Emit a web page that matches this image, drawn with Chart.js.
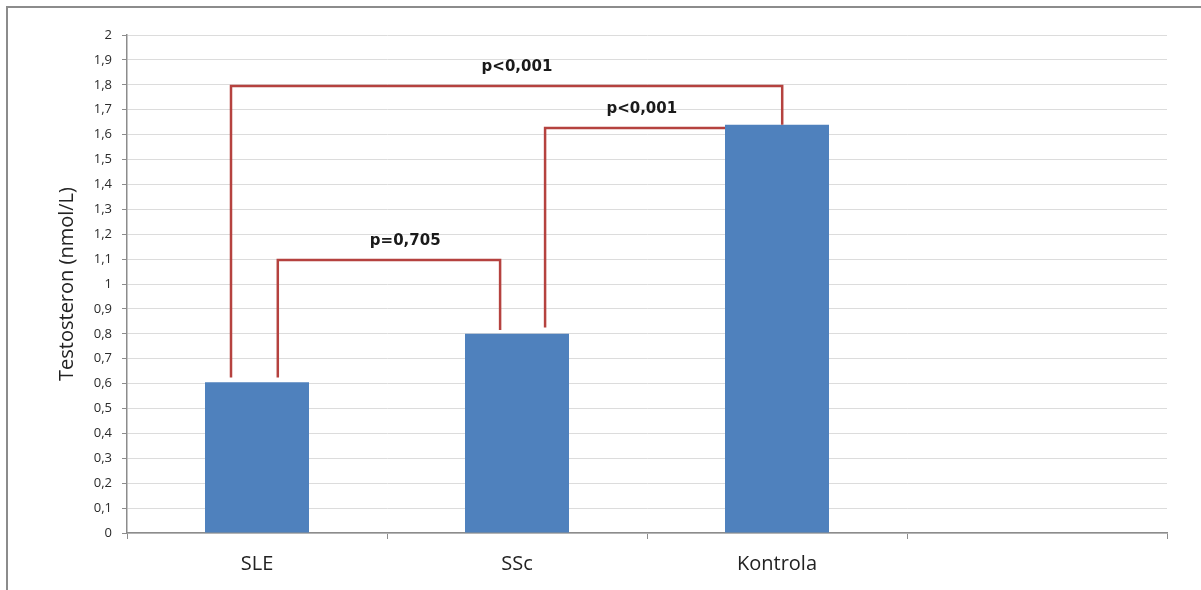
<!DOCTYPE html>
<html>
<head>
<meta charset="utf-8">
<script src="https://cdn.jsdelivr.net/npm/chart.js@4"></script>
<style>
  html, body { margin: 0; padding: 0; background: #fff; overflow: hidden; }
  #wrap { position: relative; width: 1201px; height: 590px; }
  #frame { position: absolute; left: 6px; top: 6px; width: 1400px; height: 800px;
           border-top: 2px solid #8c8c8c; border-left: 2px solid #8c8c8c; pointer-events: none; }
</style>
</head>
<body>
<div id="wrap">
  <canvas id="myBarChart" width="1201" height="590"></canvas>
  <div id="frame"></div>
</div>
<script>
// data
const categories = ['SLE', 'SSc', 'Kontrola', ''];
const testosteron = [0.605, 0.8, 1.64, null];

// significance brackets, in category-index / nmol/L units
const bracketLabels = ['p<0,001', 'p<0,001', 'p=0,705'];
const bracketLevel = [1.795, 1.627, 1.096];
const bracketFrom = [-0.1, 1.108, 0.08];
const bracketTo = [2.02, 1.8, 0.935];
const bracketFromEnd = [0.625, 0.825, 0.625];
const bracketToEnd = [1.64, 1.627, 0.815];
const bracketLabelX = [1.0, 1.48, 0.57];

const fmt = v => (Math.round(v * 10) / 10).toString().replace('.', ',');

// draws the brackets with the chart's own scales
const bracketPlugin = {
  id: 'brackets',
  afterDatasetsDraw(chart) {
    const { ctx, scales: { x, y } } = chart;
    ctx.save();
    ctx.strokeStyle = '#b5423f';
    ctx.lineWidth = 2.5;
    ctx.lineCap = 'butt';
    bracketLabels.forEach((label, i) => {
      const x1 = x.getPixelForValue(bracketFrom[i]);
      const x2 = x.getPixelForValue(bracketTo[i]);
      const yl = y.getPixelForValue(bracketLevel[i]);
      ctx.beginPath();
      ctx.moveTo(x1, y.getPixelForValue(bracketFromEnd[i]));
      ctx.lineTo(x1, yl);
      ctx.lineTo(x2, yl);
      ctx.lineTo(x2, y.getPixelForValue(bracketToEnd[i]));
      ctx.stroke();
      ctx.fillStyle = '#1a1a1a';
      ctx.font = 'bold 15px "DejaVu Sans"';
      ctx.textAlign = 'center';
      ctx.textBaseline = 'middle';
      ctx.fillText(label, x.getPixelForValue(bracketLabelX[i]), yl - 19);
    });
    ctx.restore();
  }
};

const dataBar = {
  labels: categories,
  datasets: [{
    label: 'Testosteron',
    backgroundColor: '#4f81bd',
    borderWidth: 0,
    barPercentage: 0.4,
    categoryPercentage: 1,
    data: testosteron,
  }]
};

const configBar = {
  type: 'bar',
  data: dataBar,
  options: {
    responsive: false,
    animation: false,
    layout: { padding: { top: 35, right: 34, left: 0, bottom: 0 } },
    plugins: { legend: { display: false }, tooltip: { enabled: false } },
    scales: {
      x: {
        offset: true,
        grid: { offset: true, drawOnChartArea: false, drawTicks: true, tickLength: 6, tickColor: '#8c8c8c', color: '#8c8c8c' },
        border: { color: '#8c8c8c', width: 1.5 },
        ticks: { color: '#222', font: { family: 'Open Sans', size: 20 }, padding: 13 },
        afterFit: s => { s.height = 57; }
      },
      y: {
        min: 0,
        max: 2,
        ticks: { stepSize: 0.1, color: '#2a2a2a', font: { family: 'Open Sans', size: 13 }, padding: 10,
                 callback: v => fmt(v) },
        grid: { color: '#dcdcdc', lineWidth: 1, tickLength: 5, tickColor: '#8c8c8c' },
        border: { color: '#8c8c8c', width: 1.5 },
        title: { display: true, text: 'Testosteron (nmol/L)', color: '#222',
                 font: { family: 'Open Sans', size: 20 }, padding: { top: 55, bottom: 0 } },
        afterFit: s => { s.width = 127; }
      }
    }
  },
  plugins: [bracketPlugin]
};

const myBarChart = new Chart(document.getElementById('myBarChart'), configBar);
</script>
</body>
</html>
